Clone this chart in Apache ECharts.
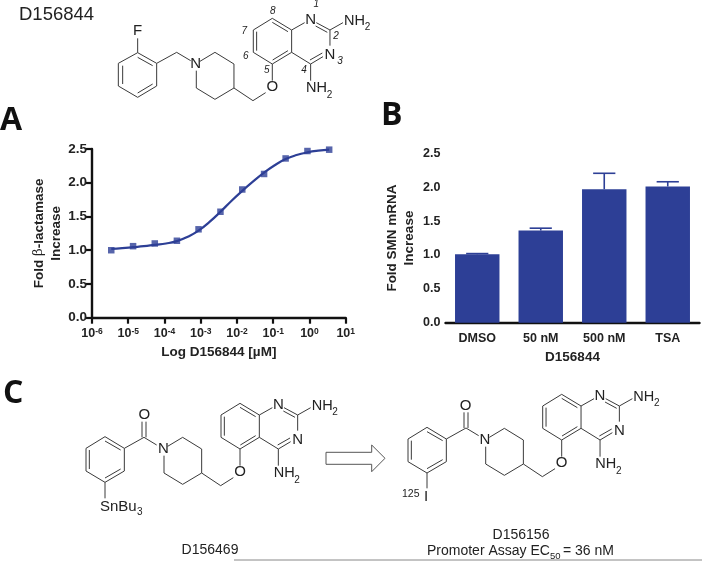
<!DOCTYPE html>
<html><head><meta charset="utf-8">
<style>html,body{margin:0;padding:0;background:#fff}#c{width:702px;height:561px}</style>
<script src="https://cdn.jsdelivr.net/npm/echarts@6/dist/echarts.min.js"></script>
</head><body><div id="c"></div>
<script>
// ---- Panel A data
const concentrations = [3.4e-6, 1.36e-5, 5.4e-5, 2.2e-4, 8.7e-4, 3.5e-3, 1.4e-2, 5.6e-2, 0.22, 0.88, 3.5];
const foldBeta = [1.00, 1.06, 1.10, 1.14, 1.31, 1.57, 1.90, 2.13, 2.36, 2.47, 2.49];
// fit line at and between the data points
const fitConcentrations = [3.4e-6, 6.8e-6, 1.36e-5, 2.7e-5, 5.4e-5, 1.1e-4, 2.2e-4, 4.4e-4, 8.7e-4, 1.75e-3, 3.5e-3, 7e-3, 1.4e-2, 2.8e-2, 5.6e-2, 0.11, 0.22, 0.44, 0.88, 1.75, 3.5];
const fitCurve = [1.02, 1.03, 1.045, 1.06, 1.08, 1.10, 1.135, 1.20, 1.29, 1.42, 1.57, 1.73, 1.88, 2.02, 2.15, 2.26, 2.35, 2.41, 2.45, 2.475, 2.49];
// ---- Panel B data
const smnCategories = ['DMSO', '50 nM', '500 nM', 'TSA'];
const smnMeans = [1.01, 1.36, 1.97, 2.01];
const smnErrorTops = [1.02, 1.395, 2.205, 2.08];

const BLUE = '#2d3f96', INK = '#111', BOND = '#3a3a3a';
const SANS = '"Liberation Sans", Arial, sans-serif';

function bondLines(segs, ox, oy) {
  return segs.map(s => ({
    type: 'line', silent: true,
    shape: {x1: ox + s[0]/3, y1: oy + s[1]/3, x2: ox + s[2]/3, y2: oy + s[3]/3},
    style: {stroke: BOND, lineWidth: 1}
  }));
}
function txt(x, y, text, size, opts) {
  return {type: 'text', silent: true, x, y, style: Object.assign({
    text, fontSize: size, fontFamily: SANS, fill: '#222', align: 'left', verticalAlign: 'middle'
  }, opts || {})};
}
// shared core of the three molecules, relative to C5, in 3x units
const coreBonds = [
  [0,0,-57,-35],[-57,-35,-57,-102],[-57,-102,0,-137],[0,-137,58,-102],[58,-102,58,-35],[58,-35,0,0],
  [-47,-40,-47,-97],[0,-125,47,-97],[1,-12,47,-40],
  [58,-102,97,-124],[132,-124,173,-102],[130,-114,165,-95],[173,-102,173,-55],
  [152,-22,115,0],[150,-33,113,-12],[115,0,58,-35],[115,0,115,50],[173,-102,212,-124],
  [0,0,0,50],[-20,86,-58,110],[-58,110,-115,72],[-115,72,-115,0],[-115,0,-172,-35],[-172,-35,-217,-8],
  [-228,20,-228,72],[-228,72,-172,106],[-172,106,-115,72]
];
function core(cx, cy) {
  const ox = cx, oy = cy;
  const out = bondLines(coreBonds, ox, oy);
  const t = (dx, dy, s, size) => txt(ox + dx/3, oy + dy/3, s, size || 15, {align: 'center'});
  out.push(t(115,-132,'N'), t(173,-27,'N'), t(0,70,'O'), t(-230,0,'N'));
  out.push(txt(ox + 215/3, oy - 130/3, 'NH', 14.5), txt(ox + 277/3, oy - 110/3, '2', 10));
  out.push(txt(ox + 101/3, oy + 73/3, 'NH', 14.5), txt(ox + 163/3, oy + 93/3, '2', 10));
  return out;
}
const ringSeg = (a,b,c,d,e,f) => [a.concat(b),b.concat(c),c.concat(d),d.concat(e),e.concat(f),f.concat(a)];

const C5top = [272.3, 64], C5left = [240, 449], C5right = [561.7, 440];
// fluorobenzyl
const topSub = ringSeg([413,158],[470,190],[470,258],[413,292],[355,258],[355,190]).concat([
  [413,158,413,115],[470,190,530,157],[530,157,572,182],
  [368,197,368,252],[413,172,458,197],[413,279,458,252]
]);
// stannyl benzoyl
const leftSub = ringSeg([315,185],[373,220],[373,288],[315,322],[258,288],[258,220]).concat([
  [373,220,432,187],[432,187,470,210],[426,140,426,187],[438,140,438,187],
  [315,322,315,370],[268,225,268,282],[315,198,362,225],[315,309,362,282]
]);
// iodobenzoyl
const rightSub = ringSeg([231,157],[289,192],[289,260],[231,294],[174,260],[174,192]).concat([
  [289,192,348,159],[348,159,386,182],[342,112,342,159],[354,112,354,159],
  [231,294,231,340],[184,197,184,254],[231,170,278,197],[231,281,278,254]
]);

const nums = [['1',949,12],['2',1008,110],['3',1020,183],['4',912,212],['5',800,212],['6',737,168],['7',733,93],['8',818,33]];

const graphics = [].concat(
  [txt(0,121,'A',32,{fontFamily:'"Open Sans"',fontWeight:'bold',fill:'#111'}),
   txt(381,116,'B',32,{fontFamily:'"Open Sans"',fontWeight:'bold',fill:'#111'}),
   txt(3,394,'C',32,{fontFamily:'"Open Sans"',fontWeight:'bold',fill:'#111'}),
   txt(19,15,'D156844',18.5)],
  core(C5top[0],C5top[1]), bondLines(topSub,0,0),
  [txt(137.7,31,'F',15,{align:'center'})],
  nums.map(n => txt(n[1]/3,n[2]/3,n[0],10,{align:'center',fontStyle:'italic'})),
  core(C5left[0],C5left[1]), bondLines(leftSub,0,375),
  [txt(433/3,375+120/3,'O',15,{align:'center'}), txt(100,375+395/3,'SnBu',15), txt(137,375+413/3,'3',10)],
  core(C5right[0],C5right[1]), bondLines(rightSub,350,375),
  [txt(350+347/3,375+92/3,'O',15,{align:'center'}), txt(350+228/3,375+365/3,'I',15,{align:'center'}), txt(402,375+357/3,'125',10.5)],
  [{type:'polygon',silent:true,shape:{points:[[326,452.3],[371.7,452.3],[371.7,445],[385,458.3],[371.7,471.7],[371.7,464.3],[326,464.3]]},style:{fill:'#fff',stroke:'#555',lineWidth:1}}],
  [txt(210,550,'D156469',14,{align:'center'}),
   txt(521,535,'D156156',14,{align:'center'}),
   txt(427,551.5,'Promoter Assay EC',14),
   txt(550,556,'50',9.5),
   txt(563,551.5,'= 36 nM',14),
   {type:'line',silent:true,shape:{x1:234,y1:560,x2:702,y2:560},style:{stroke:'#888',lineWidth:1}}]
);

const axisLine = {onZero:false, lineStyle:{color:INK,width:2.4}};
const axisTick = {length:6, lineStyle:{color:INK,width:2.2}};
const nameStyle = {fontFamily:SANS,fontWeight:'bold',fontSize:13.5,color:'#222',lineHeight:17};

const chart = echarts.init(document.getElementById('c'), null, {renderer:'canvas'});
chart.setOption({
  animation:false,
  backgroundColor:'#fff',
  grid:[
    {left:92,top:149,width:253.7,height:168.7,containLabel:false},
    {left:445.5,top:153.3,width:254,height:169.4,containLabel:false}
  ],
  xAxis:[
    {type:'log',gridIndex:0,logBase:10,min:1e-6,max:10,splitNumber:7,
     axisLine,axisTick,splitLine:{show:false},minorTick:{show:false},minorSplitLine:{show:false},
     name:'Log D156844 [µM]',nameLocation:'middle',nameGap:26,nameTextStyle:nameStyle,
     axisLabel:{margin:9,showMinLabel:true,showMaxLabel:true,hideOverlap:false,
       fontFamily:SANS,fontWeight:'bold',fontSize:12.5,color:'#222',
       formatter:v=>'10{s|'+Math.round(Math.log10(v))+'}',
       rich:{s:{fontFamily:SANS,fontWeight:'bold',fontSize:8.5,color:'#222',verticalAlign:'top',padding:[0,0,5,0]}}}},
    {type:'category',gridIndex:1,data:smnCategories,
     axisLine,axisTick:Object.assign({alignWithLabel:true},axisTick),
     name:'D156844',nameLocation:'middle',nameGap:26,nameTextStyle:nameStyle,
     axisLabel:{margin:9,interval:0,fontFamily:SANS,fontWeight:'bold',fontSize:12.5,color:'#222'}}
  ],
  yAxis:[
    {type:'value',gridIndex:0,min:0,max:2.5,interval:0.5,
     axisLine,axisTick,splitLine:{show:false},
     name:'Fold {g|β}-lactamase\nIncrease',nameLocation:'middle',nameGap:26,
     nameTextStyle:Object.assign({},nameStyle,{rich:{g:{fontFamily:'"DejaVu Serif"',fontWeight:'normal',fontSize:13.5,color:'#222'}}}),
     axisLabel:{margin:5,fontFamily:SANS,fontWeight:'bold',fontSize:13.5,color:'#222',formatter:v=>v.toFixed(1)}},
    {type:'value',gridIndex:1,min:0,max:2.5,interval:0.5,
     axisLine,axisTick,splitLine:{show:false},
     name:'Fold SMN mRNA\nIncrease',nameLocation:'middle',nameGap:27.5,nameTextStyle:nameStyle,
     axisLabel:{margin:5,fontFamily:SANS,fontWeight:'bold',fontSize:12.5,color:'#222',formatter:v=>v.toFixed(1)}}
  ],
  series:[
    {type:'line',xAxisIndex:0,yAxisIndex:0,data:fitConcentrations.map((c,i)=>[c,fitCurve[i]]),
     smooth:0.5,symbol:'none',lineStyle:{color:BLUE,width:2.2},z:2},
    {type:'scatter',xAxisIndex:0,yAxisIndex:0,data:concentrations.map((c,i)=>[c,foldBeta[i]]),
     symbol:'rect',symbolSize:6.5,itemStyle:{color:BLUE},z:3},
    {type:'bar',xAxisIndex:1,yAxisIndex:1,data:smnMeans,barWidth:'70%',itemStyle:{color:BLUE},z:2},
    {type:'custom',xAxisIndex:1,yAxisIndex:1,z:1,
     data:smnMeans.map((m,i)=>[i,m,smnErrorTops[i]]),
     renderItem:function(p,api){
       const low=api.coord([api.value(0),api.value(1)]);
       const top=api.coord([api.value(0),api.value(2)]);
       const hw=api.size([1,0])[0]*0.175;
       const st={stroke:BLUE,lineWidth:1.6,fill:'none'};
       return {type:'group',children:[
         {type:'line',shape:{x1:low[0],y1:low[1],x2:top[0],y2:top[1]},style:st},
         {type:'line',shape:{x1:top[0]-hw,y1:top[1],x2:top[0]+hw,y2:top[1]},style:st}
       ]};
     }}
  ],
  graphic:{elements:graphics}
});
</script></body></html>
